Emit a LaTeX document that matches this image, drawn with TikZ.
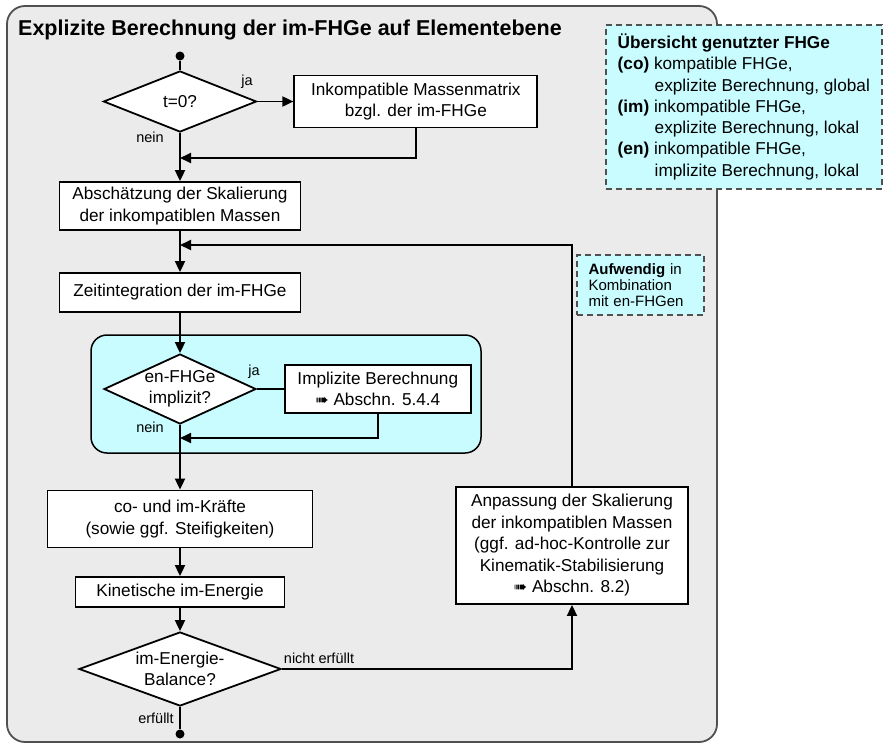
\documentclass[tikz,border=0pt]{standalone}
\usepackage{fontspec}
\setmainfont{Liberation Sans}
\newfontfamily\symfont{DejaVu Sans}
\usetikzlibrary{arrows.meta,positioning,shapes.geometric,calc}
\definecolor{panelbg}{RGB}{235,235,235}
\definecolor{panelline}{RGB}{80,80,80}
\definecolor{cyanfill}{RGB}{200,252,255}
\newcommand{\seearrow}{{\symfont\fontsize{16}{16}\selectfont ➠}}
\tikzset{
  block/.style   ={rectangle, draw=black, line width=1.8pt, fill=white,
                   align=center, inner sep=0pt, font=\fontsize{17.2}{21.5}\selectfont},
  decision/.style={diamond, draw=black, line width=1.8pt, fill=white, aspect=2.5,
                   align=center, inner xsep=0pt, inner ysep=-4pt,
                   font=\fontsize{17.2}{20.5}\selectfont},
  group/.style   ={rectangle, rounded corners=16pt, draw=black, line width=1.5pt,
                   fill=cyanfill},
  note/.style    ={rectangle, draw=panelline, dash pattern=on 6pt off 4pt,
                   line width=1.6pt, fill=cyanfill, align=left},
  flow/.style    ={-{Triangle[length=11pt,width=10pt]}, line width=1.8pt},
  wire/.style    ={line width=1.8pt},
  lbl/.style     ={font=\fontsize{14.5}{16}\selectfont, inner sep=1pt},
  termdot/.style ={circle, fill=black, inner sep=0pt, minimum size=9pt},
}

\begin{document}
\begin{tikzpicture}[x=1pt, y=-1pt]
    \useasboundingbox (0,0) rectangle (883,745);
    % grey panel with title
    \draw[panelline, fill=panelbg, line width=1.8pt, rounded corners=18pt]
        (7,6) rectangle (717,742);
    \node[anchor=base west, inner sep=0pt,
          font=\bfseries\fontsize{21.5}{24}\selectfont] (title) at (18,35.5)
        {Explizite Berechnung der im-FHGe auf Elementebene};

    % overview of the FHGe (top right)
    \node[note, anchor=north west, minimum width=276pt, minimum height=164pt,
          font=\fontsize{17.2}{21.3}\selectfont] (overview) at (605,24)
        {\textbf{Übersicht genutzter FHGe}\\
         \textbf{(co)} kompatible FHGe,\\
         \hspace*{37pt}explizite Berechnung, global\\
         \textbf{(im)} inkompatible FHGe,\\
         \hspace*{37pt}explizite Berechnung, lokal\\
         \textbf{(en)} inkompatible FHGe,\\
         \hspace*{37pt}implizite Berechnung, lokal};

    % main column
    \node[termdot] (start) at (180,56) {};
    \node[decision, minimum width=153pt, minimum height=61pt] (tnull) at (180,101.5) {t=0?};
    \node[block, right=36pt of tnull, minimum width=243pt, minimum height=52pt] (massmat)
        {Inkompatible Massenmatrix\\bzgl. der im-FHGe};
    \node[block, minimum width=241pt, minimum height=48pt] (scaleest) at (180,206)
        {Abschätzung der Skalierung\\der inkompatiblen Massen};
    \node[block, minimum width=241pt, minimum height=39pt] (timeint) at (180,292.5)
        {Zeitintegration der im-FHGe};

    % en-FHGe group (cyan)
    \node[group, minimum width=390pt, minimum height=118pt] (engroup) at (286,394) {};
    \node[decision, minimum width=152pt, minimum height=70pt] (enimpl) at (180,389)
        {en-FHGe\\implizit?};
    \node[block, right=27pt of enimpl, minimum width=186pt, minimum height=48pt] (implcalc)
        {Implizite Berechnung\\\seearrow\ Abschn. 5.4.4};

    \node[block, minimum width=265pt, minimum height=57pt] (forces) at (180,519)
        {co- und im-Kräfte\\(sowie ggf. Steifigkeiten)};
    \node[block, minimum width=209pt, minimum height=30pt] (kinen) at (180,592)
        {Kinetische im-Energie};
    \node[decision, minimum width=202pt, minimum height=74pt] (balance) at (180,669)
        {im-Energie-\\Balance?};
    \node[termdot] (stop) at (180,734) {};

    % right column
    \node[block, minimum width=232pt, minimum height=117pt] (adapt) at (572,545.5)
        {Anpassung der Skalierung\\der inkompatiblen Massen\\(ggf. ad-hoc-Kontrolle zur\\
         Kinematik-Stabilisierung\\\seearrow\ Abschn. 8.2)};
    \node[note, text width=104pt, minimum height=60pt, inner xsep=11.5pt,
          font=\fontsize{15}{16.2}\selectfont] (costly) at (640.5,285)
        {\textbf{Aufwendig} in\\Kombination\\mit en-FHGen};

    % branch labels
    \node[lbl] (ja1)   at (247,82)  {ja};
    \node[lbl] (nein1) at (150,137) {nein};
    \node[lbl] (ja2)   at (254,372) {ja};
    \node[lbl] (nein2) at (150,427) {nein};
    \node[lbl] (ok)    at (156,718) {erfüllt};
    \node[lbl] (notok) at (319,658) {nicht erfüllt};

    % junctions on the main line
    \coordinate (join1) at (180,158);
    \coordinate (join2) at (180,245);
    \coordinate (join3) at (180,438);

    % connectors
    \draw[wire] (start) -- (tnull.north);
    \draw[flow] (tnull.east) -- (tnull.east -| massmat.west);
    \draw[flow] (tnull.south) -- (scaleest.north);
    \draw[flow] (massmat.south) |- (join1);
    \draw[flow] (scaleest.south) -- (timeint.north);
    \draw[flow] (adapt.north) |- (join2);
    \draw[flow] (timeint.south) -- (enimpl.north);
    \draw[wire] (enimpl.east) -- (implcalc.west);
    \draw[flow] (implcalc.south) |- (join3);
    \draw[flow] (enimpl.south) -- (forces.north);
    \draw[flow] (forces.south) -- (kinen.north);
    \draw[flow] (kinen.south) -- (balance.north);
    \draw[wire] (balance.south) -- (stop);
    \draw[flow] (balance.east) -| (adapt.south);
\end{tikzpicture}
\end{document}
